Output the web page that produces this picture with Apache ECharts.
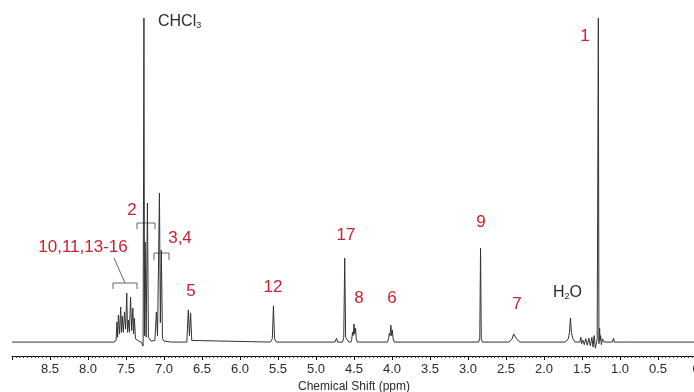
<!DOCTYPE html>
<html><head><meta charset="utf-8">
<script src="https://cdn.jsdelivr.net/npm/echarts@6/dist/echarts.min.js"></script>
<style>html,body{margin:0;padding:0;background:#fff}#c{width:694px;height:392px}</style>
</head><body><div id="c"></div>
<script>
// Spectrum vertices (chemical shift in ppm, relative intensity)
var shiftPpm = [9.00,7.66,7.63,7.62,7.61,7.60,7.585,7.57,7.56,7.55,7.535,7.52,7.505,7.49,7.48,7.47,7.455,7.44,7.425,7.41,7.40,7.39,7.375,7.36,7.33,7.30,7.275,7.264,7.256,7.248,7.235,7.218,7.205,7.17,7.12,7.10,7.085,7.06,7.048,7.035,7.02,7.00,6.90,
  6.70,6.68,6.665,6.65,6.635,6.62,
  5.60,5.575,5.56,5.545,5.52,
  4.75,4.73,4.715,4.65,4.635,4.622,4.61,4.57,
  4.54,4.53,4.52,4.51,4.50,4.49,4.48,4.47,4.455,
  4.06,4.045,4.035,4.025,4.015,4.005,3.995,3.985,3.97,
  2.86,2.845,2.835,2.825,2.81,
  2.46,2.42,2.40,2.39,2.38,2.36,2.32,
  1.72,1.68,1.665,1.652,1.64,1.62,1.59,
  1.53,1.515,1.505,1.49,1.47,1.45,1.43,1.41,1.39,1.37,1.355,1.34,1.325,1.30,1.285,1.277,1.268,1.262,1.255,1.245,1.23,1.21,
  1.10,1.085,1.075,0.90,-0.10];
var intensity = [0,0,0.5,6.2,1.5,8.3,2.5,10.8,3,8.0,3,9.3,4,15.1,3,6.8,3,13.9,3.5,10.5,2.5,7.4,1,0.5,0.3,0,-1.2,100,2,30.9,1.5,42.9,1.5,0.3,0.5,9.3,2,46.0,6,28.4,1,0.3,0,
  0,9.9,2,9.0,0.5,0,
  0,1,11.1,1,0,
  0,1.2,0,0,1.5,25.9,1.5,0,
  0,0.8,3.0,2,5.6,2.5,4.3,1,0,
  0,1,2.8,2,5.2,2,3.7,1,0,
  0,1,29.0,1,0,
  0,1,2.5,3.1,2.5,1,0,
  0,1,3,7.4,3,1,0,
  0,1.5,-0.5,0.6,-0.8,1.0,-1,1.2,-1.2,1.5,-1.5,2.0,-1.9,1,100,-0.5,4.3,0.5,2,-0.8,1,0,
  0,1.2,0,0,0];
var tickLabels = ['0','0.5','1.0','1.5','2.0','2.5','3.0','3.5','4.0','4.5','5.0','5.5','6.0','6.5','7.0','7.5','8.0','8.5'];

var pts = shiftPpm.map(function(p,i){return [p,intensity[i]];});
var RED = '#cc1f2f', DARK = '#2a2a2a';
var FONT = '"Liberation Sans", Arial, sans-serif';
var chart = echarts.init(document.getElementById('c'));
function txt(x,y,t,color,size){
  return {type:'text',x:x,y:y,style:{text:t,fill:color,font:size+'px '+FONT,align:'center',verticalAlign:'middle'}};
}
function bracket(x1,x2,y,leg){
  return {type:'polyline',shape:{points:[[x1,y+leg],[x1,y],[x2,y],[x2,y+leg]]},style:{stroke:'#666',lineWidth:1,fill:null}};
}
chart.setOption({
  animation:false,
  grid:{left:12,width:684,top:18,bottom:36,containLabel:false,outerBoundsMode:'none'},
  xAxis:{type:'value',inverse:true,min:0,max:9,interval:0.5,
    name:'Chemical Shift (ppm)',nameLocation:'middle',nameGap:24,
    nameTextStyle:{color:DARK,fontSize:12,fontFamily:'Liberation Sans'},
    axisLine:{show:true,onZero:false,lineStyle:{color:'#111',width:1}},
    axisTick:{show:true,length:4,lineStyle:{color:'#111'}},
    minorTick:{show:true,splitNumber:10,length:2,lineStyle:{color:'#333'}},
    splitLine:{show:false},
    axisLabel:{color:DARK,fontSize:13,fontFamily:'Liberation Sans',margin:7,hideOverlap:false,showMinLabel:true,showMaxLabel:false,
      formatter:function(v){var i=Math.round(v*2);return i<tickLabels.length?tickLabels[i]:'';}}
  },
  yAxis:{type:'value',min:-4.3,max:100,show:false},
  series:[{type:'line',data:pts,showSymbol:false,symbol:'none',lineStyle:{color:'#333',width:1},clip:true}],
  graphic:[
    txt(585,36,'1',RED,17),
    {type:'text',x:158,y:22,style:{rich:{a:{fontSize:16,fontFamily:'Liberation Sans',fill:DARK},s:{fontSize:9,fontFamily:'Liberation Sans',fill:DARK,padding:[8,0,0,0]}},text:'{a|CHCl}{s|3}',verticalAlign:'middle'}},
    txt(132,210,'2',RED,17),
    bracket(137,155,223,6),
    txt(180,238,'3,4',RED,17),
    bracket(154,169,253,7),
    txt(83,247,'10,11,13-16',RED,17),
    bracket(113,137,283,6),
    {type:'line',shape:{x1:125,y1:283,x2:114,y2:258},style:{stroke:'#666',lineWidth:1}},
    txt(191,291,'5',RED,17),
    txt(273,287,'12',RED,17),
    txt(346,235,'17',RED,17),
    txt(359,298,'8',RED,17),
    txt(392,298,'6',RED,17),
    txt(481,222,'9',RED,17),
    txt(517,304,'7',RED,17),
    {type:'text',x:553,y:293,style:{rich:{a:{fontSize:16,fontFamily:'Liberation Sans',fill:DARK},s:{fontSize:9,fontFamily:'Liberation Sans',fill:DARK,padding:[8,0,0,0]}},text:'{a|H}{s|2}{a|O}',verticalAlign:'middle'}}
  ]
});
</script></body></html>
